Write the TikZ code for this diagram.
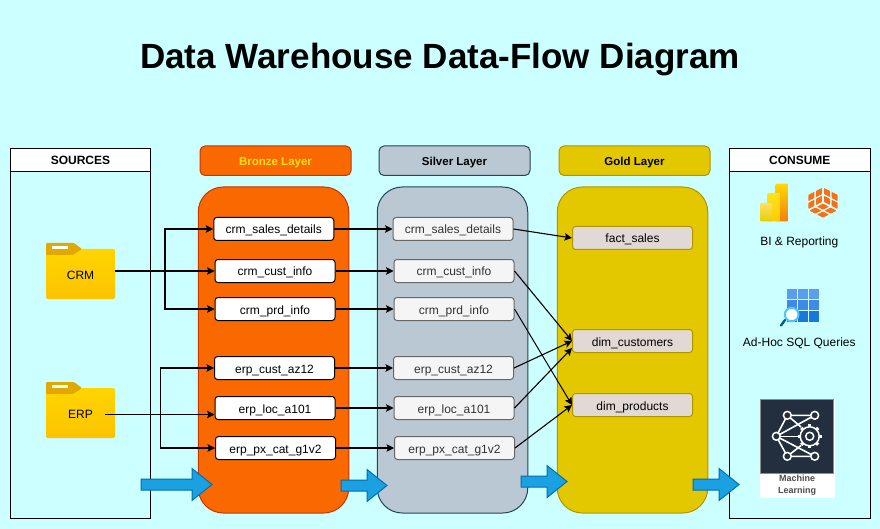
\documentclass[tikz,border=0pt]{standalone}
\usepackage{fontspec}
\setmainfont{Liberation Sans}
\usetikzlibrary{arrows.meta}

\definecolor{skybg}{HTML}{CCFFFF}
\definecolor{bronzefill}{HTML}{FA6800}
\definecolor{bronzeline}{HTML}{C73500}
\definecolor{bronzetext}{HTML}{FFE11A}
\definecolor{silverfill}{HTML}{BAC8D3}
\definecolor{silverline}{HTML}{23445D}
\definecolor{goldfill}{HTML}{E3C800}
\definecolor{goldline}{HTML}{B09500}
\definecolor{goldbox}{HTML}{E1D9D5}
\definecolor{arrowblue}{HTML}{1BA1E2}
\definecolor{arrowline}{HTML}{006EAF}
\definecolor{mlnavy}{HTML}{232F3E}
\definecolor{foldertop}{HTML}{FFD500}
\definecolor{folderlow}{HTML}{FCC300}
\definecolor{foldertab}{HTML}{E0A800}
\definecolor{cubeorange}{HTML}{FA6E14}

\tikzset{
    panel/.style={draw=black, line width=1pt, fill=none, inner sep=0pt},
    panelhead/.style={panel, fill=white, text height=11pt, text depth=1pt, font=\bfseries\fontsize{12}{14}\selectfont},
    layerhead/.style={rounded corners=5pt, minimum width=151pt, minimum height=29.5pt, inner sep=0pt, line width=1pt, text height=11pt, text depth=1pt, font=\bfseries\fontsize{11.5}{14}\selectfont},
    layerbody/.style={rounded corners=25pt, minimum width=150.5pt, minimum height=326pt, inner sep=0pt, line width=1pt},
    tablebox/.style={rounded corners=3pt, minimum width=120pt, minimum height=23pt, inner sep=0pt, line width=1pt, text height=11pt, text depth=1pt, font=\fontsize{12}{14}\selectfont},
    bronzebox/.style={tablebox, draw=black, fill=white},
    silverbox/.style={tablebox, draw=black!60, fill=black!4, text=black!80},
    goldtable/.style={tablebox, draw=goldline, fill=goldbox},
    flow/.style={line width=1.1pt, -{Stealth[length=7.5pt,width=7.5pt,inset=1.5pt]}},
    folderbody/.style={rounded corners=1.5pt, minimum width=69pt, minimum height=50pt, inner sep=0pt, top color=foldertop, bottom color=folderlow, text height=11pt, text depth=1pt, font=\fontsize{12}{14}\selectfont},
    bluearrow/.style={draw=arrowline, fill=arrowblue, line width=1pt, line join=miter},
    caption/.style={inner sep=0pt, text height=11pt, text depth=1pt, font=\fontsize{12}{14}\selectfont},
    netline/.style={draw=white, line width=1.6pt}
}

\begin{document}
\begin{tikzpicture}[x=1pt, y=-1pt]
    \useasboundingbox[fill=skybg] (0,0) rectangle (880,529);

    \node[inner sep=0pt, font=\bfseries\fontsize{35}{40}\selectfont] (title) at (440,59.5) {Data Warehouse Data-Flow Diagram};

    % side panels
    \node[panel, minimum width=140pt, minimum height=369.5pt] (sources) at (80.5,333.25) {};
    \node[panelhead, minimum width=140pt, minimum height=23pt] (sourceshead) at (80.5,160) {SOURCES};
    \node[panel, minimum width=140.5pt, minimum height=369.5pt] (consume) at (799.75,333.25) {};
    \node[panelhead, minimum width=140.5pt, minimum height=23pt] (consumehead) at (799.75,160) {CONSUME};

    % layers
    \node[layerhead, draw=bronzeline, fill=bronzefill, text=bronzetext] (bronzehead) at (275.5,160.75) {Bronze Layer};
    \node[layerhead, draw=silverline, fill=silverfill] (silverhead) at (454.5,160.75) {Silver Layer};
    \node[layerhead, draw=goldline, fill=goldfill] (goldhead) at (634.5,160.75) {Gold Layer};
    \node[layerbody, draw=bronzeline, fill=bronzefill] (bronze) at (273.5,350) {};
    \node[layerbody, draw=silverline, fill=silverfill] (silver) at (452.5,350) {};
    \node[layerbody, draw=goldline, fill=goldfill] (gold) at (632.5,350) {};

    % source folders
    \foreach \fy/\fname/\ftext in {274/crmfolder/CRM, 413/erpfolder/ERP} {
        \node[folderbody] (\fname) at (80.5,\fy) {\ftext};
        \fill[foldertab, rounded corners=1pt] (46,\fy-31) -- (74,\fy-31) -- (82,\fy-25) -- (73,\fy-19) -- (46,\fy-19) -- cycle;
        \fill[white] (52,\fy-28) rectangle (68,\fy-25);
    }

    % bronze tables
    \node[bronzebox] (bsales) at (273.75,229) {crm\_sales\_details};
    \node[bronzebox] (bcust) at (275,271) {crm\_cust\_info};
    \node[bronzebox] (bprd) at (275,309) {crm\_prd\_info};
    \node[bronzebox] (baz) at (274.5,368) {erp\_cust\_az12};
    \node[bronzebox] (bloc) at (275,408) {erp\_loc\_a101};
    \node[bronzebox] (bpx) at (275.5,448) {erp\_px\_cat\_g1v2};

    % silver tables
    \node[silverbox] (ssales) at (453,229) {crm\_sales\_details};
    \node[silverbox] (scust) at (454,271) {crm\_cust\_info};
    \node[silverbox] (sprd) at (454,309) {crm\_prd\_info};
    \node[silverbox] (saz) at (453.5,368) {erp\_cust\_az12};
    \node[silverbox] (sloc) at (454,408) {erp\_loc\_a101};
    \node[silverbox] (spx) at (454.5,448) {erp\_px\_cat\_g1v2};

    % gold tables
    \node[goldtable] (gfact) at (632.5,238) {fact\_sales};
    \node[goldtable] (gcust) at (632.5,341) {dim\_customers};
    \node[goldtable] (gprod) at (632.5,405) {dim\_products};

    % sources to bronze
    \coordinate (crmout) at (crmfolder.east |- bcust.west);
    \coordinate (crmjoin) at (165,271);
    \coordinate (erpout) at (105,414.5);
    \coordinate (erpjoin) at (160.5,414.5);
    \draw[flow] (crmout) -- (crmjoin) |- (bsales.west);
    \draw[flow] (crmout) -- (bcust.west);
    \draw[flow] (crmout) -- (crmjoin) |- (bprd.west);
    \draw[flow] (erpjoin) |- (baz.west);
    \draw[flow, line width=1pt] (erpout) -- (erpout -| bloc.west);
    \draw[flow] (erpjoin) |- (bpx.west);

    % bronze to silver
    \foreach \fa/\fb in {bsales/ssales, bcust/scust, bprd/sprd, baz/saz, bloc/sloc, bpx/spx}
        \draw[flow] (\fa.east) -- (\fb.west);

    % silver to gold
    \draw[flow] (ssales.east) -- (gfact.west);
    \draw[flow] (scust.east) -- (gcust.west);
    \draw[flow, line width=1pt] (sprd.east) -- (gprod.west);
    \draw[flow] (saz.east) -- (gcust.west);
    \draw[flow] (sloc.east) -- ([yshift=-7pt]gcust.west);
    \draw[flow] (spx.east) -- (gprod.west);

    % big arrows between the layers
    \foreach \ax/\ay/\al in {141/484.5/71, 341/485.5/46, 521/481.5/46, 693/484.5/46}
        \draw[bluearrow] (\ax,\ay-5.5) -- ++(\al-20,0) -- ++(0,-10.5) -- ++(20,16) -- ++(-20,16) -- ++(0,-10.5) -- ++(20-\al,0) -- cycle;

    % power bi bars
    \draw[draw=none, rounded corners=1pt, top color=yellow!70!orange, bottom color=orange!80!brown] (775.7,183.7) rectangle (788.3,221.3);
    \draw[draw=none, rounded corners=1pt, top color=yellow!75!orange!90!white, bottom color=yellow!60!orange] (767.7,193) rectangle (780.3,221.3);
    \draw[draw=none, rounded corners=1pt, top color=yellow!60!orange!60!white, bottom color=yellow!80!orange!90!black] (760,203) rectangle (772.3,221.3);

    % orange cube
    \foreach \ax/\ay/\bx/\by in {7.6/-3.94/-7.6/-3.94, 7.6/-3.94/0/7.88, -7.6/-3.94/0/7.88} {
        \begin{scope}[shift={(823,202.5)}, x={(\ax pt,\ay pt)}, y={(\bx pt,\by pt)}]
            \foreach \i in {0,1} \foreach \j in {0,1}
                \fill[cubeorange, rounded corners=0.6pt] (\i+.14,\j+.14) -- (\i+.92,\j+.14) -- (\i+.92,\j+.92) -- (\i+.14,\j+.92) -- cycle;
        \end{scope}
    }
    \node[caption] (bilabel) at (799.3,240.5) {BI \& Reporting};

    % query grid
    \foreach \gy/\gc in {289/5C9DED, 300.2/3F8AE6, 311.4/1A78DC} {
        \definecolor{gridcolor}{HTML}{\gc}
        \foreach \gx in {786.7,797.9,809.1}
            \fill[gridcolor] (\gx,\gy) rectangle ++(10.2,10.2);
    }
    \draw[line width=2.4pt, line cap=round, blue!40!cyan!60!black] (785,320) -- (781,325.5);
    \filldraw[fill=white, draw=cyan!70!white, line width=2pt] (791.7,314.5) circle (6.8);
    \node[caption] (sqllabel) at (799.3,341.7) {Ad-Hoc SQL Queries};

    % machine learning tile
    \fill[white] (759.5,399) rectangle (834.5,498);
    \filldraw[fill=mlnavy, draw=black!45] (760.5,399.5) rectangle (833.5,473);
    \coordinate (nl) at (776.3,436.3);
    \coordinate (ntl) at (787.3,415.3);
    \coordinate (ntr) at (814.7,415.3);
    \coordinate (nbl) at (787.3,456.3);
    \coordinate (nbr) at (814.7,456.3);
    \coordinate (ngear) at (809.7,436.3);
    \draw[netline] (nl) -- (ntl) -- (ntr) (nl) -- (nbl) -- (nbr);
    \draw[netline] (nl) -- (798,436.3);
    \draw[netline] (nl) -- (ntr) (nl) -- (nbr);
    \draw[netline] (ntl) -- (801,427) (nbl) -- (801,445.5);
    \filldraw[fill=mlnavy, draw=white, line width=1.5pt] (ngear) circle (9.5);
    \foreach \ga in {0,45,...,315}
        \draw[white, line width=3.2pt] (ngear) ++(\ga:9) -- ++(\ga:3);
    \filldraw[fill=mlnavy, draw=white, line width=1.5pt] (ngear) circle (4);
    \foreach \nc in {nl,ntl,ntr,nbl,nbr}
        \filldraw[fill=mlnavy, draw=white, line width=1.5pt] (\nc) circle (3.9);
    \node[inner sep=0pt, text=black!70, align=center, font=\bfseries\fontsize{9}{12}\selectfont] (mllabel) at (797,485) {Machine\\Learning};
\end{tikzpicture}
\end{document}
